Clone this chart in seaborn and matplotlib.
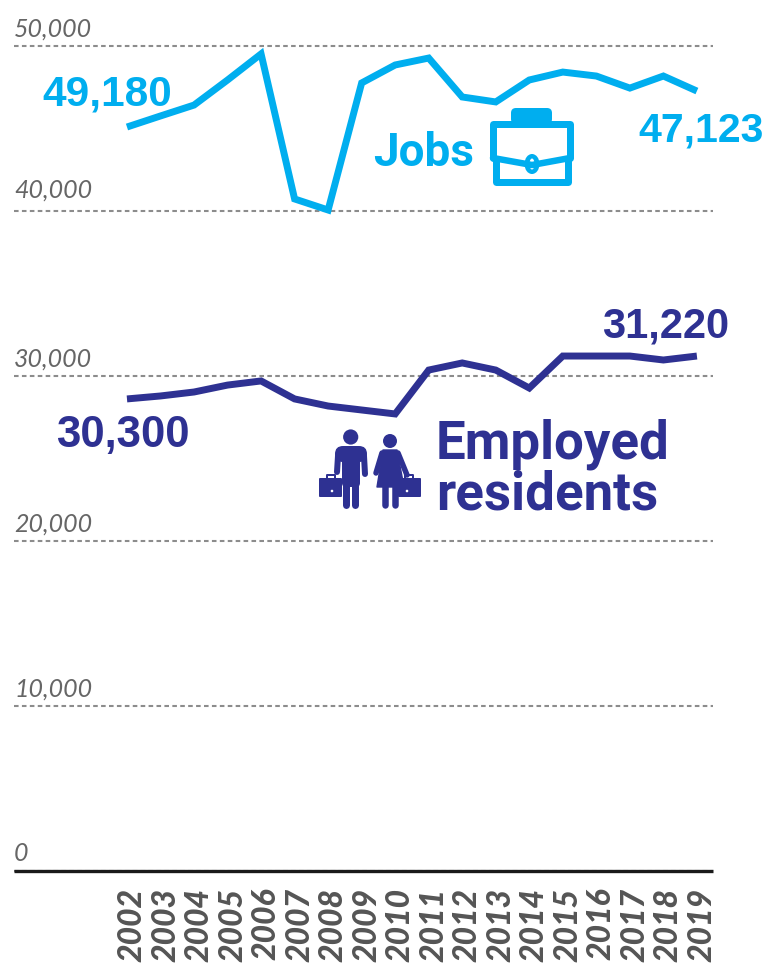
import pandas as pd
import matplotlib
matplotlib.use("Agg")
import matplotlib.pyplot as plt
from matplotlib.patches import Circle, FancyBboxPatch, Polygon, Ellipse
from matplotlib.transforms import ScaledTranslation
import seaborn as sns

# Values
years = list(range(2002, 2020))
jobs = [45090, 45760, 46420, 47940, 49520, 40730, 40060, 47760, 48850,
        49270, 46910, 46610, 47940, 48420, 48180, 47450, 48180, 47270]
employed = [28610, 28790, 29030, 29450, 29700, 28610, 28180, 27940, 27700,
            30360, 30790, 30360, 29270, 31210, 31210, 31210, 30970, 31210]
y_ticks = [0, 10000, 20000, 30000, 40000, 50000]
y_labels = ["0", "10,000", "20,000", "30,000", "40,000", "50,000"]

JOBS_COL = "#00aeef"
EMP_COL = "#2e3192"
W, H = 769, 973

sns.set_style("white")
plt.rcParams['font.family'] = ['Lato', 'DejaVu Sans']

df = pd.DataFrame({'year': years, 'Jobs': jobs, 'Employed residents': employed})

fig = plt.figure(figsize=(W / 100, H / 100), dpi=100)
ax = fig.add_axes([14 / W, 1 - 871 / H, (713 - 14) / W, (871 - 46) / H])

line_kw = dict(linewidth=5.0, solid_joinstyle='miter', solid_capstyle='butt')
sns.lineplot(data=df, x='year', y='Jobs', color=JOBS_COL, ax=ax, **line_kw)
sns.lineplot(data=df, x='year', y='Employed residents', color=EMP_COL, ax=ax, **line_kw)

ax.set_xlim(1998.63, 2019.48)
ax.set_ylim(0, 50000)
ax.set_xlabel("")
ax.set_ylabel("")

for side in ['top', 'left', 'right']:
    ax.spines[side].set_visible(False)
ax.spines['bottom'].set_color("#1a1a1a")
ax.spines['bottom'].set_linewidth(2.4)
ax.spines['bottom'].set_capstyle('butt')

ax.yaxis.grid(True, color="#8c8c8c", linewidth=1.5, linestyle=(0, (2.2, 1.6)))
ax.xaxis.grid(False)
ax.set_axisbelow(True)
for gl in ax.yaxis.get_gridlines():
    gl.set_clip_on(False)

ax.set_yticks(y_ticks)
ax.set_yticklabels(y_labels, fontsize=18, style='italic', color="#666666")
ax.tick_params(axis='y', length=0, pad=0)
for lab in ax.get_yticklabels():
    lab.set_ha('left')
    lab.set_va('bottom')
    # the 40,000 label sits a little higher in the original
    up = 7 if lab.get_text() == "40,000" else 4
    lab.set_transform(lab.get_transform() + ScaledTranslation(0, up / 72, fig.dpi_scale_trans))

ax.set_xticks(years)
ax.set_xticklabels(years, rotation=90, fontsize=23, style='italic', fontweight='black', color="#555555")
ax.tick_params(axis='x', length=0, pad=12)
for lab in ax.get_xticklabels():
    lab.set_va('top')
    lab.set_ha('center')
    lab.set_transform(lab.get_transform() + ScaledTranslation(5 / 100, 0, fig.dpi_scale_trans))

# Overlay in picture pixels for the annotations and icons
ov = fig.add_axes([0, 0, 1, 1], facecolor='none')
ov.set_xlim(0, W)
ov.set_ylim(H, 0)
ov.axis('off')

num_kw = dict(family=['Liberation Sans'], fontweight='bold', va='center')
ov.text(42, 94, "49,180", color=JOBS_COL, fontsize=30.5, **num_kw)
ov.text(638, 130, "47,123", color=JOBS_COL, fontsize=29.5, **num_kw)
ov.text(602, 327, "31,220", color=EMP_COL, fontsize=30, **num_kw)
ov.text(56, 436, "30,300", color=EMP_COL, fontsize=31.5, **num_kw)

name_kw = dict(family=['Roboto'], fontweight='bold', va='center')
ov.text(373, 153, "Jobs", color=JOBS_COL, fontsize=33, **name_kw)
ov.text(436, 444, "Employed", color=EMP_COL, fontsize=38, **name_kw)
ov.text(436, 495, "residents", color=EMP_COL, fontsize=38, **name_kw)


def stroke(xs, ys, col, px, cap='round'):
    ov.plot(xs, ys, color=col, linewidth=px * 0.72, solid_capstyle=cap, solid_joinstyle='round')


def rbox(x0, y0, x1, y1, r, col, fill=True, lw=0):
    ov.add_patch(FancyBboxPatch((x0 + r, y0 + r), x1 - x0 - 2 * r, y1 - y0 - 2 * r,
                                boxstyle="round,pad=%f,rounding_size=%f" % (r, r),
                                facecolor=col if fill else 'none', edgecolor=col,
                                linewidth=lw))


# Briefcase
rbox(511, 108, 552, 124, 5, JOBS_COL)
stroke([493, 493, 570, 570], [158, 124, 124, 158], JOBS_COL, 7)
stroke([493, 532, 570], [158, 165, 158], JOBS_COL, 6.5)
stroke([496, 496, 568, 568], [160, 182, 182, 160], JOBS_COL, 7)
ov.add_patch(Ellipse((532, 164), 15, 20, facecolor=JOBS_COL, edgecolor='none'))
ov.add_patch(Ellipse((532, 164), 5, 11, facecolor='white', edgecolor='none'))

# Man
ov.add_patch(Circle((350.7, 437), 7.6, color=EMP_COL, linewidth=0))
rbox(335, 446, 367, 462, 8, EMP_COL)
rbox(342, 446, 360, 487, 4, EMP_COL)
stroke([338, 337], [456, 472], EMP_COL, 6)
stroke([364, 365], [456, 474], EMP_COL, 6)
stroke([346, 346], [484, 505], EMP_COL, 7)
stroke([355, 355], [484, 505], EMP_COL, 7)
rbox(319, 478, 342, 497, 1, EMP_COL)
stroke([327, 327, 335, 335], [479, 475, 475, 479], EMP_COL, 2)

# Woman
ov.add_patch(Circle((390, 441), 7, color=EMP_COL, linewidth=0))
ov.add_patch(Polygon([(383, 450), (397, 450), (404, 487), (377, 487)], closed=True,
                     facecolor=EMP_COL, edgecolor=EMP_COL, linewidth=1, joinstyle='round'))
stroke([382, 376], [453, 473], EMP_COL, 5.5)
stroke([398, 407], [453, 475], EMP_COL, 5.5)
stroke([385, 385], [485, 505], EMP_COL, 6.5)
stroke([395, 395], [485, 505], EMP_COL, 6.5)
rbox(398, 478, 421, 497, 1, EMP_COL)
stroke([405, 405, 413, 413], [479, 475, 475, 479], EMP_COL, 2)
ov.add_patch(Circle((332, 491), 1.3, color='white', linewidth=0))
ov.add_patch(Circle((407, 491), 1.3, color='white', linewidth=0))

fig.savefig("out.png", dpi=100)
